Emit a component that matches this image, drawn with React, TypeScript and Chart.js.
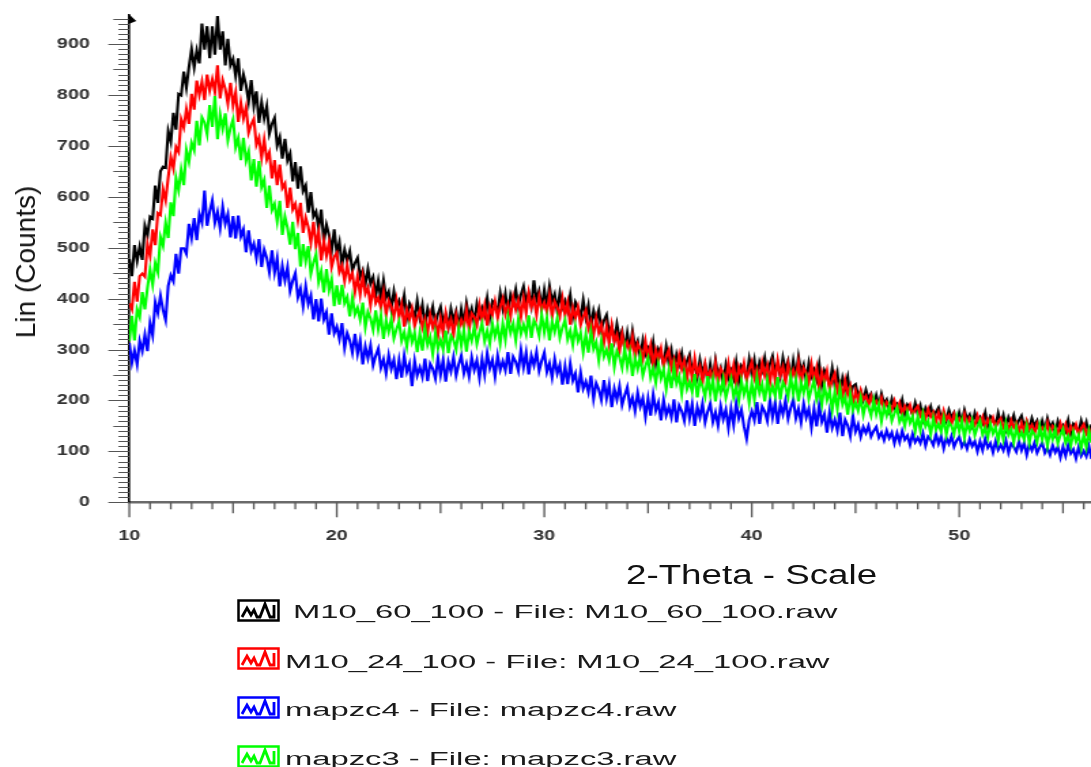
import React, { useEffect, useRef } from "react";
import { Chart, registerables } from "chart.js";

Chart.register(...registerables);

// ---- data: 2-Theta grid starts at 10°, step 0.125° (8 readings per degree per row) ----
const THETA_START = 10;
const THETA_STEP = 0.125;

const m10_60_100 = [
  478, 444, 505, 474, 502, 476, 543, 524,
  561, 557, 622, 588, 650, 659, 657, 729,
  708, 765, 732, 802, 799, 846, 814, 855,
  890, 854, 887, 862, 940, 889, 935, 872,
  935, 879, 955, 889, 925, 858, 910, 858,
  871, 837, 872, 808, 840, 819, 787, 829,
  778, 807, 745, 786, 754, 778, 724, 743,
  755, 701, 717, 675, 714, 671, 685, 630,
  668, 616, 660, 611, 622, 569, 609, 561,
  571, 538, 575, 512, 545, 525, 493, 536,
  489, 511, 466, 496, 474, 493, 455, 470,
  480, 443, 456, 427, 458, 429, 442, 405,
  435, 400, 436, 402, 414, 380, 414, 384,
  396, 376, 406, 363, 391, 380, 361, 396,
  363, 388, 347, 380, 361, 384, 351, 370,
  384, 351, 369, 344, 380, 356, 375, 343,
  379, 350, 391, 364, 381, 352, 390, 366,
  382, 367, 401, 363, 395, 388, 372, 411,
  381, 410, 371, 408, 392, 418, 386, 408,
  424, 392, 411, 386, 436, 398, 415, 382,
  417, 385, 424, 394, 409, 376, 411, 383,
  396, 377, 407, 365, 393, 382, 362, 397,
  363, 387, 344, 376, 356, 377, 340, 357,
  368, 332, 346, 318, 350, 322, 337, 301,
  333, 299, 336, 304, 317, 284, 318, 290,
  302, 283, 314, 272, 301, 290, 271, 306,
  273, 298, 257, 290, 271, 293, 259, 277,
  290, 256, 272, 246, 280, 254, 271, 237,
  271, 239, 279, 249, 264, 233, 270, 244,
  259, 243, 276, 237, 268, 260, 244, 281,
  251, 279, 240, 275, 259, 284, 251, 272,
  287, 254, 273, 248, 284, 259, 277, 243,
  278, 246, 286, 256, 271, 239, 274, 247,
  260, 241, 272, 230, 259, 248, 228, 263,
  229, 254, 211, 244, 224, 246, 210, 228,
  232, 209, 218, 201, 221, 204, 213, 190,
  210, 190, 213, 194, 202, 181, 203, 185,
  193, 181, 201, 173, 192, 185, 173, 195,
  174, 190, 164, 185, 173, 188, 166, 177,
  186, 165, 175, 160, 181, 166, 176, 155,
  176, 157, 181, 163, 172, 152, 175, 158,
  167, 156, 176, 150, 169, 163, 151, 175,
  154, 171, 145, 167, 155, 171, 149, 161,
  170, 149, 159, 144, 165, 150, 160, 139,
  160, 141, 165, 147, 156, 136, 159, 142,
  151, 140, 161, 134, 154, 148, 137, 160,
  140, 157, 132, 153, 142,
];

const m10_24_100 = [
  391, 379, 433, 394, 444, 449, 443, 507,
  484, 536, 505, 568, 564, 615, 593, 638,
  678, 656, 698, 688, 752, 736, 772, 743,
  802, 771, 828, 800, 826, 790, 840, 809,
  831, 806, 858, 793, 829, 812, 783, 824,
  779, 805, 747, 785, 754, 776, 726, 742,
  753, 702, 716, 677, 712, 673, 687, 636,
  672, 623, 663, 617, 626, 578, 618, 575,
  586, 554, 588, 529, 559, 541, 510, 551,
  504, 531, 475, 513, 484, 510, 462, 482,
  490, 452, 465, 435, 466, 437, 450, 413,
  443, 408, 444, 410, 422, 387, 421, 391,
  402, 382, 412, 368, 396, 384, 364, 397,
  363, 388, 345, 378, 358, 380, 346, 364,
  377, 343, 360, 333, 368, 343, 360, 327,
  361, 331, 371, 343, 359, 329, 367, 342,
  358, 343, 377, 339, 371, 364, 348, 387,
  357, 386, 347, 384, 368, 394, 362, 384,
  400, 369, 388, 365, 402, 378, 397, 365,
  401, 371, 411, 383, 399, 368, 404, 378,
  392, 374, 406, 364, 394, 383, 365, 400,
  367, 392, 349, 382, 362, 383, 348, 365,
  377, 341, 356, 328, 361, 333, 349, 313,
  345, 311, 348, 316, 329, 296, 330, 302,
  314, 295, 325, 283, 311, 300, 281, 316,
  283, 308, 266, 299, 280, 302, 268, 286,
  299, 264, 281, 254, 288, 261, 278, 243,
  276, 244, 283, 252, 267, 235, 271, 244,
  258, 241, 273, 233, 263, 254, 237, 273,
  242, 269, 230, 265, 248, 273, 240, 261,
  276, 244, 262, 238, 274, 249, 268, 235,
  270, 239, 279, 250, 266, 235, 271, 245,
  260, 242, 275, 234, 264, 254, 235, 271,
  239, 264, 222, 255, 236, 258, 222, 240,
  253, 218, 233, 206, 239, 212, 228, 192,
  219, 200, 220, 202, 209, 190, 209, 193,
  199, 189, 205, 182, 197, 191, 181, 199,
  181, 195, 172, 189, 179, 191, 172, 182,
  189, 170, 179, 164, 183, 168, 177, 158,
  176, 158, 180, 163, 171, 153, 173, 158,
  165, 155, 173, 150, 166, 160, 151, 170,
  152, 167, 144, 163, 153, 166, 147, 158,
  165, 147, 156, 142, 161, 147, 156, 138,
  156, 139, 160, 144, 152, 135, 154, 140,
  147, 138, 156, 133, 150, 145, 135, 155,
  138, 153, 130, 149, 140, 153, 134, 145,
  153, 135, 144, 130, 150,
];

const mapzc4 = [
  313, 274, 298, 271, 317, 297, 329, 297,
  352, 328, 393, 372, 406, 378, 358, 425,
  446, 434, 488, 449, 499, 499, 488, 547,
  519, 558, 515, 566, 549, 612, 543, 571,
  593, 549, 570, 538, 580, 547, 566, 520,
  562, 518, 563, 522, 536, 491, 534, 494,
  508, 480, 517, 462, 496, 480, 452, 495,
  451, 479, 424, 464, 436, 462, 415, 435,
  450, 403, 420, 385, 424, 389, 406, 359,
  399, 355, 400, 359, 373, 329, 371, 332,
  345, 321, 352, 303, 332, 318, 294, 331,
  292, 318, 271, 306, 283, 308, 269, 288,
  302, 264, 281, 253, 289, 262, 280, 242,
  279, 245, 288, 256, 272, 228, 278, 249,
  265, 246, 282, 238, 272, 262, 243, 284,
  250, 280, 237, 276, 257, 285, 249, 271,
  288, 253, 272, 247, 285, 260, 279, 244,
  282, 250, 293, 263, 280, 247, 288, 260,
  277, 259, 295, 252, 286, 276, 258, 299,
  265, 294, 251, 288, 269, 295, 258, 278,
  294, 256, 273, 245, 281, 253, 270, 231,
  267, 232, 272, 239, 253, 216, 255, 223,
  237, 216, 249, 203, 234, 222, 201, 240,
  204, 231, 187, 223, 202, 228, 191, 210,
  226, 189, 206, 179, 215, 188, 205, 168,
  204, 170, 212, 180, 196, 161, 201, 171,
  187, 167, 202, 157, 190, 179, 160, 200,
  165, 193, 150, 187, 167, 194, 157, 178,
  194, 158, 177, 151, 189, 163, 182, 146,
  184, 152, 195, 165, 182, 149, 125, 162,
  179, 161, 197, 154, 188, 178, 160, 201,
  167, 196, 154, 192, 173, 200, 164, 185,
  202, 165, 184, 157, 194, 167, 184, 147,
  184, 149, 191, 158, 173, 137, 177, 146,
  162, 141, 176, 130, 162, 151, 130, 170,
  139, 153, 129, 148, 136, 150, 129, 140,
  148, 127, 137, 122, 141, 126, 137, 116,
  136, 118, 140, 123, 131, 113, 134, 118,
  127, 116, 135, 111, 129, 123, 112, 134,
  115, 130, 106, 127, 115, 130, 109, 121,
  129, 109, 119, 105, 124, 110, 120, 100,
  120, 102, 125, 107, 116, 98, 120, 103,
  113, 102, 121, 97, 115, 109, 99, 120,
  102, 117, 93, 114, 102, 117, 97, 108,
  117, 97, 107, 93, 112, 98, 109, 88,
  109, 91, 113, 96, 104, 86, 108, 91,
  101, 90, 110, 85, 104,
];

const mapzc3 = [
  317, 366, 318, 379, 364, 413, 379, 421,
  457, 427, 470, 452, 521, 504, 549, 519,
  589, 562, 637, 613, 653, 623, 692, 669,
  706, 691, 749, 701, 756, 746, 723, 780,
  737, 798, 713, 762, 734, 764, 711, 735,
  752, 697, 715, 672, 716, 671, 689, 632,
  674, 620, 670, 619, 633, 578, 622, 574,
  586, 552, 592, 525, 561, 539, 506, 551,
  497, 529, 463, 507, 474, 503, 449, 471,
  487, 433, 454, 412, 458, 417, 438, 385,
  426, 388, 427, 391, 403, 365, 402, 369,
  382, 359, 392, 344, 374, 361, 339, 377,
  340, 367, 321, 357, 335, 360, 322, 340,
  355, 317, 334, 306, 342, 315, 333, 295,
  332, 298, 341, 309, 325, 291, 332, 302,
  319, 300, 337, 293, 327, 318, 300, 341,
  308, 338, 296, 335, 317, 345, 311, 333,
  351, 316, 337, 312, 351, 326, 347, 312,
  351, 319, 363, 333, 351, 318, 360, 331,
  349, 330, 367, 323, 357, 347, 327, 368,
  334, 362, 318, 355, 335, 361, 323, 343,
  358, 320, 337, 309, 345, 317, 333, 295,
  330, 294, 335, 301, 315, 279, 317, 286,
  300, 279, 312, 266, 297, 285, 264, 302,
  266, 293, 248, 283, 262, 287, 249, 268,
  283, 245, 263, 235, 271, 243, 261, 223,
  259, 224, 266, 233, 248, 213, 252, 222,
  237, 217, 252, 206, 239, 228, 208, 248,
  213, 241, 198, 235, 215, 242, 206, 226,
  243, 207, 226, 200, 238, 212, 232, 196,
  234, 202, 245, 215, 232, 198, 240, 211,
  228, 209, 246, 202, 236, 226, 207, 247,
  213, 241, 198, 235, 215, 241, 203, 223,
  239, 202, 220, 192, 229, 201, 219, 181,
  217, 183, 224, 192, 207, 172, 212, 181,
  196, 180, 205, 172, 195, 187, 170, 200,
  173, 193, 159, 187, 170, 189, 160, 175,
  186, 158, 170, 150, 176, 156, 169, 140,
  168, 142, 173, 149, 160, 134, 165, 142,
  154, 139, 165, 133, 157, 150, 134, 165,
  139, 160, 127, 156, 140, 160, 132, 148,
  160, 133, 146, 127, 154, 135, 148, 121,
  149, 124, 155, 132, 143, 118, 148, 126,
  138, 123, 149, 117, 141, 134, 118, 149,
  123, 144, 111, 140, 124, 144, 116, 132,
  144, 117, 130, 111, 138, 119, 132, 105,
  133, 108, 140, 117, 128,
];

const X_TICKS = [10, 20, 30, 40, 50];
const Y_TICKS = [0, 100, 200, 300, 400, 500, 600, 700, 800, 900];
const X_MIN = 10;
const X_MAX = 56.35;
const Y_MIN = 0;
const Y_MAX = 957;

const SERIES = [
  { name: "M10_60_100", values: m10_60_100, color: "#000000", order: 3 },
  { name: "M10_24_100", values: m10_24_100, color: "#ff0000", order: 2 },
  { name: "mapzc4", values: mapzc4, color: "#0000ff", order: 1 },
  { name: "mapzc3", values: mapzc3, color: "#00ff00", order: 0 },
];

const LEGEND_LABELS = [
  "M10_60_100 - File: M10_60_100.raw",
  "M10_24_100 - File: M10_24_100.raw",
  "mapzc4 - File: mapzc4.raw",
  "mapzc3 - File: mapzc3.raw",
];

const X_TITLE = "2-Theta - Scale";
const Y_TITLE = "Lin (Counts)";

// ---- layout ----
const CANVAS_W = 802;
const SX = 1091 / CANVAS_W; // horizontal stretch of the original figure
const CANVAS_H = 540;
const PLOT_BOTTOM = 502.3;
const PLOT_LEFT = 129.3;
const FONT = "Arial, 'Liberation Sans', sans-serif";

const minorTicks = {
  id: "minorTicks",
  afterDraw(chart: any) {
    const { ctx, chartArea } = chart;
    const x = chart.scales.x;
    const y = chart.scales.y;
    ctx.save();
    ctx.strokeStyle = "#555";
    ctx.lineWidth = 1;
    for (let v = 0; v <= Y_MAX; v += 10) {
      const py = Math.round(y.getPixelForValue(v)) + 0.5;
      const len = (v % 100 === 0 ? 21 : v % 50 === 0 ? 16 : 11) / SX;
      ctx.beginPath();
      ctx.moveTo(chartArea.left - len, py);
      ctx.lineTo(chartArea.left, py);
      ctx.stroke();
    }
    ctx.lineWidth = 1.3;
    for (let v = 10; v <= 56; v += 1) {
      const px = x.getPixelForValue(v);
      const len = v % 10 === 0 ? 15 : v % 5 === 0 ? 11 : 7;
      ctx.beginPath();
      ctx.moveTo(px, chartArea.bottom);
      ctx.lineTo(px, chartArea.bottom + len);
      ctx.stroke();
    }
    ctx.fillStyle = "#000";
    ctx.beginPath();
    ctx.moveTo(chartArea.left - 0.5, chartArea.top - 1);
    ctx.lineTo(chartArea.left + 7 / SX, chartArea.top + 6);
    ctx.lineTo(chartArea.left - 0.5, chartArea.top + 9);
    ctx.closePath();
    ctx.fill();
    ctx.restore();
  },
};

function LegendIcon({ color }: { color: string }) {
  return (
    <svg width={43} height={23} viewBox="0 0 43 23" style={{ display: "block" }}>
      <rect x={1.5} y={1.5} width={40} height={20} fill="#fff" stroke={color} strokeWidth={2.5} />
      <polyline
        points="5,18 10,9 14,16 17,11 20,18 23,18 28,5 33,18 37,18 37,6"
        fill="none"
        stroke={color}
        strokeWidth={2.8}
      />
    </svg>
  );
}

export default function App() {
  const canvasRef = useRef<HTMLCanvasElement | null>(null);

  useEffect(() => {
    if (!canvasRef.current) return;
    const datasets = SERIES.map((s) => ({
      label: s.name,
      data: s.values.map((v, i) => ({ x: THETA_START + i * THETA_STEP, y: v })),
      borderColor: s.color,
      backgroundColor: s.color,
      borderWidth: 2.1,
      pointRadius: 0,
      tension: 0,
      fill: false,
      order: s.order,
    }));
    const chart = new Chart(canvasRef.current, {
      type: "line",
      data: { datasets },
      options: {
        animation: false,
        responsive: false,
        maintainAspectRatio: false,
        layout: { padding: { top: 15, left: 0, right: 0, bottom: 0 } },
        plugins: { legend: { display: false }, tooltip: { enabled: false } },
        scales: {
          x: {
            type: "linear",
            min: X_MIN,
            max: X_MAX,
            afterBuildTicks: (s: any) => {
              s.ticks = X_TICKS.map((v) => ({ value: v }));
            },
            afterFit: (s: any) => {
              s.height = CANVAS_H - PLOT_BOTTOM;
              s.paddingLeft = 0;
              s.paddingRight = 0;
            },
            grid: { display: false, drawTicks: false },
            border: { display: true, color: "#6a6a6a", width: 2.4 },
            ticks: {
              autoSkip: false,
              maxRotation: 0,
              padding: 25,
              color: "#333",
              font: { family: FONT, size: 14.5, weight: "bold" },
            },
          },
          y: {
            type: "linear",
            min: Y_MIN,
            max: Y_MAX,
            afterBuildTicks: (s: any) => {
              s.ticks = Y_TICKS.map((v) => ({ value: v }));
            },
            afterFit: (s: any) => {
              s.width = PLOT_LEFT / SX;
              s.paddingTop = 0;
              s.paddingBottom = 0;
            },
            grid: { display: false, drawTicks: false },
            border: { display: true, color: "#000", width: 1.6 },
            ticks: {
              padding: 29,
              color: "#333",
              font: { family: FONT, size: 14.5, weight: "bold" },
            },
          },
        },
      },
      plugins: [minorTicks],
    } as any);
    return () => chart.destroy();
  }, []);

  return (
    <div
      style={{
        position: "absolute",
        left: 0,
        top: 0,
        width: 1091,
        height: 767,
        background: "#fff",
        overflow: "hidden",
        fontFamily: FONT,
      }}
    >
      <div
        style={{
          position: "absolute",
          left: 0,
          top: 0,
          width: CANVAS_W,
          height: 767,
          transform: `scaleX(${SX})`,
          transformOrigin: "0 0",
        }}
      >
        <canvas ref={canvasRef} width={CANVAS_W} height={CANVAS_H} style={{ display: "block" }} />
        <div
          style={{
            position: "absolute",
            left: 626 / SX,
            top: 561.8,
            fontSize: 27,
            lineHeight: "27px",
            color: "#111",
            whiteSpace: "nowrap",
          }}
        >
          {X_TITLE}
        </div>
      </div>
      <div
        style={{
          position: "absolute",
          left: 26,
          top: 261.5,
          fontSize: 28,
          lineHeight: "28px",
          color: "#111",
          whiteSpace: "nowrap",
          transform: "translate(-50%, -50%) rotate(-90deg)",
        }}
      >
        {Y_TITLE}
      </div>
      {SERIES.map((s, i) => {
        const iconTop = [599, 647, 696, 745][i];
        const textCenter = [611.5, 661.5, 709.5, 758.5][i];
        const textLeft = i === 0 ? 293 : 285;
        return (
          <React.Fragment key={s.name}>
            <div style={{ position: "absolute", left: 237, top: iconTop }}>
              <LegendIcon color={s.color} />
            </div>
            <div
              style={{
                position: "absolute",
                left: textLeft,
                top: textCenter - 9,
                fontSize: 18,
                lineHeight: "18px",
                color: "#1a1a1a",
                whiteSpace: "nowrap",
                transform: "scaleX(1.82)",
                transformOrigin: "0 50%",
              }}
            >
              {LEGEND_LABELS[i]}
            </div>
          </React.Fragment>
        );
      })}
    </div>
  );
}
